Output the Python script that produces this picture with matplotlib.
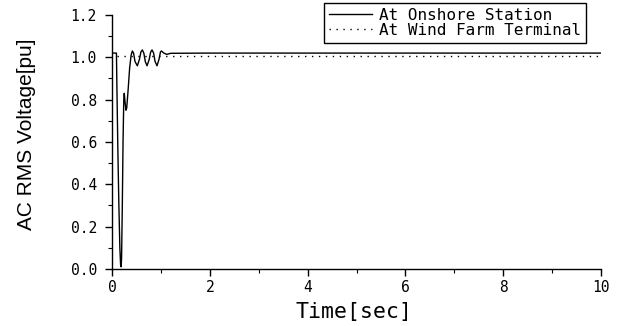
import matplotlib
matplotlib.use("Agg")
import matplotlib.pyplot as plt
from matplotlib.ticker import MultipleLocator, FormatStrFormatter

# Onshore station AC voltage during the fault transient [s, pu]
t_onshore = [0.0, 0.09, 0.10, 0.12, 0.14, 0.16, 0.175, 0.185, 0.195, 0.21, 0.225,
             0.24, 0.25, 0.265, 0.285, 0.30, 0.33, 0.36, 0.39, 0.415, 0.44, 0.47,
             0.517, 0.56, 0.59, 0.62, 0.65, 0.68, 0.716, 0.76, 0.79, 0.818, 0.85,
             0.88, 0.92, 0.96, 0.99, 1.01, 1.06, 1.12, 1.2, 2.0, 10.0]
v_onshore = [1.02, 1.02, 0.85, 0.55, 0.30, 0.10, 0.02, 0.01, 0.05, 0.30, 0.60,
             0.80, 0.83, 0.79, 0.75, 0.76, 0.85, 0.95, 1.01, 1.03, 1.02, 0.98,
             0.96, 0.99, 1.025, 1.035, 1.02, 0.98, 0.96, 0.99, 1.025, 1.035, 1.02,
             0.98, 0.96, 0.99, 1.025, 1.03, 1.02, 1.014, 1.019, 1.02, 1.02]

# Wind farm terminal voltage [s, pu]
t_windfarm = [0.1, 10.0]
v_windfarm = [1.005, 1.005]

mono = "DejaVu Sans Mono"

fig = plt.figure(figsize=(6.19, 3.26), dpi=100)
ax = fig.add_axes([0.181, 0.175, 0.79, 0.779])

ax.plot(t_onshore, v_onshore, color="black", lw=1.0, label="At Onshore Station")
ax.plot(t_windfarm, v_windfarm, color="black", lw=1.0, dashes=(1, 4),
        label="At Wind Farm Terminal")

ax.set_xlim(0, 10)
ax.set_ylim(0, 1.2)
ax.xaxis.set_major_locator(MultipleLocator(2))
ax.xaxis.set_minor_locator(MultipleLocator(1))
ax.yaxis.set_major_locator(MultipleLocator(0.2))
ax.yaxis.set_minor_locator(MultipleLocator(0.1))
ax.yaxis.set_major_formatter(FormatStrFormatter("%.1f"))

for side in ("top", "right"):
    ax.spines[side].set_visible(False)
for side in ("left", "bottom"):
    ax.spines[side].set_linewidth(1.0)

ax.tick_params(which="major", direction="out", length=5, width=1)
ax.tick_params(which="minor", direction="out", length=3, width=0.8)
ax.tick_params(axis="y", which="major", pad=6)
ax.tick_params(axis="x", which="major", pad=3)
for lab in ax.get_xticklabels() + ax.get_yticklabels():
    lab.set_fontfamily(mono)
    lab.set_fontsize(10.5)

ax.set_xlabel("Time[sec]", fontfamily=mono, fontsize=15.5)
ax.xaxis.set_label_coords(0.495, -0.13)
ax.set_ylabel("AC RMS Voltage[pu]", fontfamily="Liberation Sans", fontsize=15)
ax.yaxis.set_label_coords(-0.155, 0.53)

leg = ax.legend(loc="upper right", bbox_to_anchor=(0.969, 1.047), borderaxespad=0,
                prop={"family": mono, "size": 11.5}, frameon=True, fancybox=False,
                handlelength=2.7, handletextpad=0.45, borderpad=0.3,
                labelspacing=0.0)
leg.get_frame().set_edgecolor("black")
leg.get_frame().set_linewidth(1.0)
leg.get_frame().set_alpha(1)

fig.savefig("out.png", dpi=100)
